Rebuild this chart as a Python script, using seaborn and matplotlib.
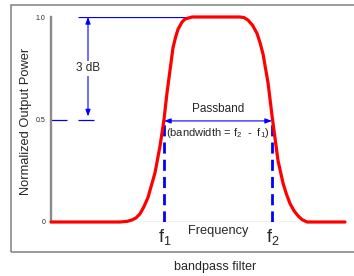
import matplotlib
matplotlib.use("Agg")
import matplotlib.pyplot as plt
import seaborn as sns
from matplotlib.patches import Rectangle

# curve (frequency in arbitrary units, power normalized)
freq = [0, 69, 76, 81, 85, 89, 93, 97, 100.5, 104, 109, 113, 116, 119, 122, 124.5,
        127, 131, 134, 141,
        189, 193, 197, 201.5, 206, 209, 212, 214.5, 217, 221, 224, 227, 232, 235.5,
        239, 243, 247, 251, 256, 269, 294]
power = [0, 0, 0.003, 0.01, 0.02, 0.04, 0.075, 0.12, 0.18, 0.24, 0.37, 0.50, 0.63,
         0.74, 0.85, 0.90, 0.94, 0.975, 0.99, 1.0,
         1.0, 0.997, 0.985, 0.96, 0.92, 0.875, 0.82, 0.75, 0.68, 0.52, 0.41, 0.30,
         0.19, 0.135, 0.09, 0.055, 0.03, 0.012, 0.0, 0.0, 0.0]
f1, f2 = 113, 221
half_power = 0.5
yticks = [0, 0.5, 1.0]
ytick_labels = ['0', '0.5', '1.0']

sns.set_style("white")
plt.rcParams['font.family'] = ['Liberation Sans', 'DejaVu Sans']

W, H = 354, 276
fig = plt.figure(figsize=(W / 100, H / 100), dpi=100)
ax = fig.add_axes([51 / W, 1 - 222 / H, 294 / W, 205 / H])

sns.lineplot(x=freq, y=power, ax=ax, color='red', lw=2.3, estimator=None,
             clip_on=False, zorder=5, solid_joinstyle='round')

ax.set_xlim(0, 294)
ax.set_ylim(0, 1)
for s in ['top', 'right', 'bottom']:
    ax.spines[s].set_visible(False)
ax.spines['left'].set_color('#8a8a8a')
ax.spines['left'].set_linewidth(1.7)
ax.set_xticks([])
ax.set_yticks(yticks, ytick_labels, fontsize=5)
ax.tick_params(axis='y', length=0, pad=4)
ax.set_xlabel('')
ax.set_ylabel('')
ax.axhline(0, xmin=0, xmax=277 / 294, color='black', lw=0.8, zorder=2)

blue = '#0000ff'
# 3 dB marker
ax.hlines(1.0, 27, 136, colors=blue, lw=0.9)
ax.hlines(half_power, 0, 44, colors=blue, lw=0.9, linestyles=(0, (12.8, 8.8)))
ax.annotate('', xy=(37, 1.0), xytext=(37, 0.515),
            arrowprops=dict(arrowstyle='<|-|>,head_length=0.4,head_width=0.15',
                            color=blue, lw=0.8, shrinkA=0, shrinkB=0))
ax.text(37, 0.75, '3 dB', ha='center', va='center', fontsize=8.5,
        bbox=dict(facecolor='white', edgecolor='none', pad=1))

# passband
ax.vlines([f1, f2], 0, half_power, colors=blue, lw=2, linestyles=(0, (4, 2.2)), zorder=4)
ax.annotate('', xy=(f1, 0.493), xytext=(f2, 0.493),
            arrowprops=dict(arrowstyle='<|-|>,head_length=0.4,head_width=0.15',
                            color=blue, lw=0.8, shrinkA=0, shrinkB=0))
ax.text((f1 + f2) / 2, 0.55, 'Passband', ha='center', va='center', fontsize=8.5)
ax.text((f1 + f2) / 2, 0.432, r'(bandwidth = $\mathregular{f_2}$  -  $\mathregular{f_1}$)',
        ha='center', va='center', fontsize=8)

ax.text(f1 + 1, -0.075, r'$\mathregular{f_1}$', ha='center', va='center', fontsize=13)
ax.text(f2 + 1, -0.075, r'$\mathregular{f_2}$', ha='center', va='center', fontsize=13)
ax.text((f1 + f2) / 2, -0.044, 'Frequency', ha='center', va='center', fontsize=9.2)

fig.text(26 / W, 1 - 121.5 / H, 'Normalized Output Power', rotation=90,
         ha='center', va='center', fontsize=9.3)
fig.text(215 / W, 1 - 267 / H, 'bandpass filter', ha='center', va='center', fontsize=9)

fig.patches.append(Rectangle((11 / W, 1 - 252 / H), 1.0, 247 / H, transform=fig.transFigure,
                             fill=False, edgecolor='#808080', lw=1.1))

fig.savefig('out.png', dpi=100)
